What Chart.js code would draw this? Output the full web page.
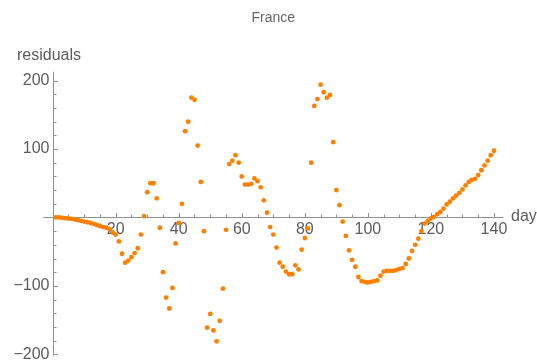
<!DOCTYPE html>
<html>
<head>
<meta charset="utf-8">
<script src="https://cdn.jsdelivr.net/npm/chart.js@4.4.1/dist/chart.umd.min.js"></script>
<style>
  html, body { margin: 0; padding: 0; background: #ffffff; }
</style>
</head>
<body>
<canvas id="residualsChart" width="537" height="360"></canvas>
<script>
/* Day number of each point (x values) */
var days = [
  1, 2, 3, 4, 5, 6, 7, 8, 9, 10, 11, 12, 13, 14, 15, 16, 17, 18, 19, 20,
  21, 22, 23, 24, 25, 26, 27, 28, 29, 30, 31, 32, 33, 34, 35, 36, 37, 38, 39, 40,
  41, 42, 43, 44, 45, 46, 47, 48, 49, 50, 51, 52, 53, 54, 55, 56, 57, 58, 59, 60,
  61, 62, 63, 64, 65, 66, 67, 68, 69, 70, 71, 72, 73, 74, 75, 76, 77, 78, 79, 80,
  81, 82, 83, 84, 85, 86, 87, 88, 89, 90, 91, 92, 93, 94, 95, 96, 97, 98, 99, 100,
  101, 102, 103, 104, 105, 106, 107, 108, 109, 110, 111, 112, 113, 114, 115, 116, 117, 118, 119, 120,
  121, 122, 123, 124, 125, 126, 127, 128, 129, 130, 131, 132, 133, 134, 135, 136, 137, 138, 139, 140
];

/* Residual for each day */
var residuals = [
  0, 0, -0.5, -1, -1.5, -2, -3, -4, -5, -6, -7, -8, -9.5, -11, -12.5, -14, -15, -17, -22, -25,
  -35, -53, -66, -63, -58, -52, -45, -25, 2, 37, 50, 50, 28, -15, -80, -117, -133, -103, -38, -8,
  20, 126, 140, 175, 172, 105, 52, -20, -161, -141, -165, -181, -151, -104, -18, 78, 83, 91, 80, 60,
  48, 48, 49, 57, 53, 44, 25, 7, -14, -25, -44, -66, -72, -79, -83, -83, -70, -76, -47, -30,
  -16, 80, 163, 173, 194, 183, 175, 179, 110, 40, 18, -6, -27, -48, -62, -72, -87, -93, -94, -95,
  -94, -93, -92, -85, -79, -78, -78, -78, -77, -75, -74, -68, -60, -49, -40, -31, -20, -9, -5, -1.5,
  1, 5, 8, 13, 19, 23, 28, 32, 36, 41, 47, 52, 55, 56.5, 62, 69, 76, 83, 91, 97.5
];

/* Tick positions */
var xMajorTicks = [20, 40, 60, 80, 100, 120, 140];
var xMinorTicks = [5, 10, 15, 25, 30, 35, 45, 50, 55, 65, 70, 75, 85, 90, 95, 105, 110, 115, 125, 130, 135];
var yMajorTicks = [-200, -100, 100, 200];
var yMinorTicks = [-180, -160, -140, -120, -80, -60, -40, -20, 20, 40, 60, 80, 120, 140, 160, 180];

var axisColor = '#8f8f8f';
var labelColor = '#5c5c5c';
var labelFont = '16px "Liberation Sans", Arial, sans-serif';

/* Draws axes through the origin, Mathematica style: ticks point inward */
var originAxes = {
  id: 'originAxes',
  beforeDatasetsDraw: function(chart) {
    var ctx = chart.ctx;
    var xs = chart.scales.x;
    var ys = chart.scales.y;
    var area = chart.chartArea;
    var x0 = Math.round(xs.getPixelForValue(0)) + 0.5;
    var y0 = Math.round(ys.getPixelForValue(0)) + 0.5;

    ctx.save();
    ctx.strokeStyle = axisColor;
    ctx.lineWidth = 1;
    ctx.beginPath();
    ctx.moveTo(area.left, y0);
    ctx.lineTo(area.right, y0);
    ctx.moveTo(x0, area.top);
    ctx.lineTo(x0, area.bottom);

    xMajorTicks.forEach(function(v) {
      var px = Math.round(xs.getPixelForValue(v)) + 0.5;
      ctx.moveTo(px, y0); ctx.lineTo(px, y0 - 4.5);
    });
    xMinorTicks.forEach(function(v) {
      var px = Math.round(xs.getPixelForValue(v)) + 0.5;
      ctx.moveTo(px, y0); ctx.lineTo(px, y0 - 3);
    });
    yMajorTicks.forEach(function(v) {
      var py = Math.round(ys.getPixelForValue(v)) + 0.5;
      ctx.moveTo(x0, py); ctx.lineTo(x0 + 4.5, py);
    });
    yMinorTicks.forEach(function(v) {
      var py = Math.round(ys.getPixelForValue(v)) + 0.5;
      ctx.moveTo(x0, py); ctx.lineTo(x0 + 3, py);
    });
    ctx.stroke();

    ctx.fillStyle = labelColor;
    ctx.font = labelFont;
    ctx.textAlign = 'center';
    ctx.textBaseline = 'top';
    xMajorTicks.forEach(function(v) {
      ctx.fillText(String(v), xs.getPixelForValue(v), y0 + 4.5);
    });
    ctx.textAlign = 'right';
    ctx.textBaseline = 'middle';
    yMajorTicks.forEach(function(v) {
      ctx.fillText(v < 0 ? '\u2212' + Math.abs(v) : String(v), x0 - 4, ys.getPixelForValue(v));
    });

    // axis labels
    ctx.textAlign = 'left';
    ctx.textBaseline = 'middle';
    ctx.fillText('residuals', 17, 56);
    ctx.fillText('days', 511, y0 - 1);
    ctx.restore();
  }
};

var points = days.map(function(d, i) { return { x: d, y: residuals[i] }; });

var ctx = document.getElementById('residualsChart').getContext('2d');
var residualsChart = new Chart(ctx, {
  type: 'scatter',
  data: {
    datasets: [{
      label: 'residuals',
      data: points,
      backgroundColor: '#ff8000',
      borderWidth: 0,
      pointRadius: 2.4,
      pointHoverRadius: 2.4
    }]
  },
  options: {
    responsive: false,
    animation: false,
    layout: {
      padding: { left: 43.2, right: 33.6, top: 0, bottom: 4.3 }
    },
    scales: {
      x: { type: 'linear', min: -3, max: 143, display: false },
      y: { type: 'linear', min: -202, max: 213, display: false }
    },
    plugins: {
      legend: { display: false },
      tooltip: { enabled: false },
      title: {
        display: true,
        text: 'France',
        color: '#666666',
        font: { family: '"Liberation Sans", Arial, sans-serif', size: 14, weight: 'normal' },
        padding: { top: 9.6, bottom: 45.3 }
      }
    }
  },
  plugins: [originAxes]
});
</script>
</body>
</html>
